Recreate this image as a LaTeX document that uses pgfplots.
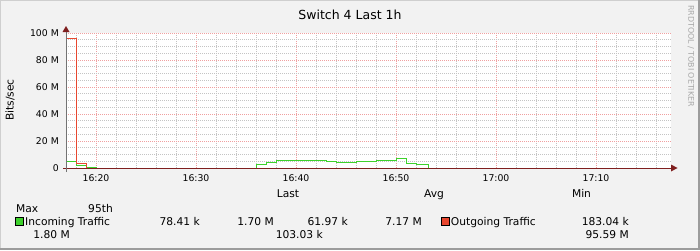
\documentclass[border=0pt]{standalone}
\usepackage{fontspec}
\setmainfont{DejaVu Sans}
\usepackage{pgfplots}
\pgfplotsset{compat=1.18}
\usetikzlibrary{arrows.meta}
\definecolor{canvas}{HTML}{F2F2F2}
\definecolor{frameL}{HTML}{CFCFCF}
\definecolor{frameD}{HTML}{9C9C9C}
\definecolor{ingreen}{HTML}{3ED12C}
\definecolor{outred}{HTML}{E8472F}
\definecolor{axisred}{HTML}{7F1F1F}
\definecolor{majgrid}{HTML}{F0A0A0}
\definecolor{mingrid}{HTML}{C4C4C4}
\definecolor{wmark}{HTML}{A8A8A8}
\begin{document}
\begin{tikzpicture}[x=1bp,y=1bp]
\useasboundingbox (0,0) rectangle (700,250);
\fill[canvas] (0,0) rectangle (700,250);
\fill[frameL] (0,0) rectangle (1,250);
\fill[frameL] (0,249) rectangle (700,250);
\fill[frameD] (698,0) rectangle (700,250);
\fill[frameD] (0,0) rectangle (700,2);
\begin{axis}[at={(368.5bp,149.5bp)}, anchor=center, scale only axis,
  width=605bp, height=135bp,
  xmin=17, xmax=77.5, ymin=0, ymax=100,
  axis background/.style={fill=white},
  axis line style={draw=none},
  xtick={20,30,40,50,60,70},
  xticklabels={16:20,16:30,16:40,16:50,17:00,17:10},
  minor xtick={18,22,24,26,28,32,34,36,38,42,44,46,48,52,54,56,58,62,64,66,68,72,74,76},
  ytick={0,20,40,60,80,100},
  yticklabels={0,20 M,40 M,60 M,80 M,100 M},
  minor ytick={5,10,15,25,30,35,45,50,55,65,70,75,85,90,95},
  grid=both,
  major grid style={draw=majgrid, line width=0.8bp, dash pattern=on 1bp off 1bp},
  minor grid style={draw=mingrid, line width=0.8bp, dash pattern=on 1bp off 1bp},
  major tick length=0pt, minor tick length=0pt,
  tick label style={font=\fontsize{9.3bp}{11bp}\selectfont},
  xticklabel style={anchor=center, yshift=-10.3bp},
  yticklabel style={anchor=east, inner sep=0pt, xshift=-7bp},
  /pgf/number format/assume math mode=true,
  clip=true]
\addplot[const plot, draw=ingreen, line width=1bp] coordinates {
  (17,5.0) (18,1.7) (19,0.6) (20,0) (36,2.7) (37,4.2) (38,5.7) (43,5.0)
  (44,4.2) (46,4.7) (48,5.7) (50,7.17) (51,3.4) (52,2.7) (53.2,0)};
\addplot[const plot, draw=outred, line width=1bp] coordinates {
  (17,95.59) (18,3.5) (19,0) (53.2,0)};
\end{axis}
% axes
\draw[axisred, line width=1bp] (63,82) -- (672,82);
\fill[axisred] (671,78.5) -- (677.5,82) -- (671,85.5) -- cycle;
\draw[black!55, line width=1bp] (66,78) -- (66,219);
\fill[axisred] (62.5,218) -- (66,224) -- (69.5,218) -- cycle;
% title and labels
\node[anchor=base, inner sep=0pt, font=\fontsize{12.5bp}{14bp}\selectfont] at (350,231) {Switch 4 Last 1h};
\node[rotate=90, inner sep=0pt, font=\fontsize{10.7bp}{12bp}\selectfont] at (10,150) {Bits/sec};
\node[rotate=-90, anchor=west, inner sep=0pt, text=wmark, font=\fontsize{7.9bp}{9bp}\selectfont] at (691,245) {RRDTOOL / TOBI OETIKER};
% legend
\begin{scope}[every node/.style={inner sep=0pt, font=\fontsize{10.7bp}{12bp}\selectfont}]
\node[anchor=base] at (288,52.5) {Last};
\node[anchor=base] at (434,52.5) {Avg};
\node[anchor=base] at (581.5,52.5) {Min};
\node[anchor=base west] at (16,38) {Max};
\node[anchor=base west] at (88,38) {95th};
\filldraw[fill=ingreen, draw=black, line width=0.8bp] (15.4,24.6) rectangle (23,32.2);
\node[anchor=base west] at (25,24.3) {Incoming Traffic};
\node[anchor=base east] at (200,24.3) {78.41 k};
\node[anchor=base east] at (274,24.3) {1.70 M};
\node[anchor=base east] at (348,24.3) {61.97 k};
\node[anchor=base east] at (422,24.3) {7.17 M};
\filldraw[fill=outred, draw=black, line width=0.8bp] (441.4,24.6) rectangle (449,32.2);
\node[anchor=base west] at (450.7,24.3) {Outgoing Traffic};
\node[anchor=base east] at (629,24.3) {183.04 k};
\node[anchor=base east] at (70,11.3) {1.80 M};
\node[anchor=base east] at (323,11.3) {103.03 k};
\node[anchor=base east] at (629,11.3) {95.59 M};
\end{scope}
\end{tikzpicture}
\end{document}
